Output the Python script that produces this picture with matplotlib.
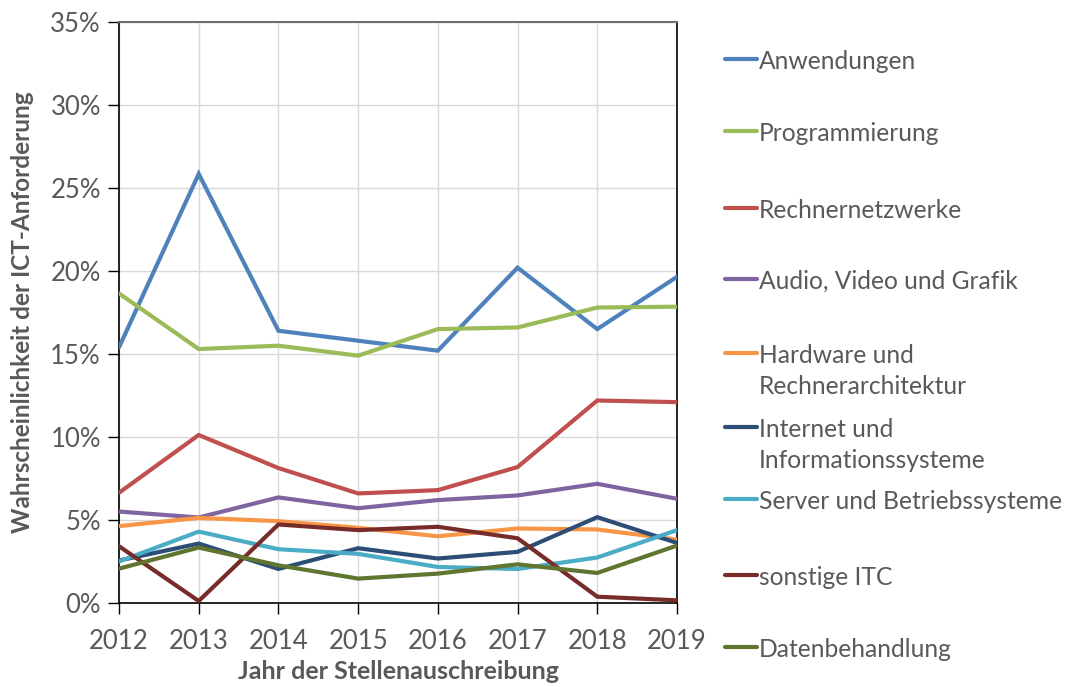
#!/usr/bin/env python3
"""Wahrscheinlichkeit der ICT-Anforderungen nach Jahr."""

import matplotlib
matplotlib.use("Agg")
import matplotlib.pyplot as plt
from matplotlib.lines import Line2D
from matplotlib.ticker import FuncFormatter

plt.rcParams.update({
    "font.family": ["Lato", "DejaVu Sans"],
    "font.size": 18,
})

years = [2012, 2013, 2014, 2015, 2016, 2017, 2018, 2019]

labels = [
    "Anwendungen",
    "Programmierung",
    "Rechnernetzwerke",
    "Audio, Video und Grafik",
    "Hardware und\nRechnerarchitektur",
    "Internet und\nInformationssysteme",
    "Server und Betriebssysteme",
    "sonstige ITC",
    "Datenbehandlung",
]

anwendungen = [15.4, 25.85, 16.4, 15.8, 15.2, 20.2, 16.5, 19.65]
programmierung = [18.65, 15.3, 15.5, 14.9, 16.5, 16.6, 17.8, 17.85]
rechnernetzwerke = [6.64, 10.12, 8.13, 6.6, 6.8, 8.19, 12.2, 12.1]
audio_video = [5.51, 5.15, 6.36, 5.71, 6.2, 6.48, 7.18, 6.28]
hardware = [4.63, 5.13, 4.93, 4.53, 4.02, 4.49, 4.43, 3.82]
internet = [2.56, 3.58, 2.05, 3.3, 2.68, 3.08, 5.17, 3.62]
server = [2.5, 4.3, 3.24, 2.96, 2.17, 2.05, 2.74, 4.39]
sonstige = [3.42, 0.12, 4.73, 4.39, 4.59, 3.9, 0.38, 0.16]
daten = [2.07, 3.34, 2.27, 1.47, 1.77, 2.33, 1.81, 3.46]

series = [anwendungen, programmierung, rechnernetzwerke, audio_video,
          hardware, internet, server, sonstige, daten]
colors = ["#4F81BD", "#9BBB59", "#C0504D", "#8064A2", "#F79646",
          "#2C4D75", "#4BACC6", "#772C2A", "#5F7530"]

TEXT = "#595959"


def main():
    fig = plt.figure(figsize=(10.65, 6.87), dpi=100)
    ax = fig.add_axes([119 / 1065, 1 - 603 / 687, 558 / 1065, 581 / 687])

    for vals, color in zip(series, colors):
        ax.plot(years, vals, color=color, linewidth=3, solid_capstyle="round",
                solid_joinstyle="miter", zorder=3)

    ax.set_xlim(2012, 2019)
    ax.set_ylim(0, 35)
    ax.set_xticks(years)
    ax.set_yticks(range(0, 36, 5))
    ax.yaxis.set_major_formatter(FuncFormatter(lambda v, _: f"{v:.0f}%"))
    ax.grid(True, color="#D9D9D9", linewidth=1, zorder=0)
    ax.tick_params(colors="black", labelcolor=TEXT, length=8, width=1,
                   labelsize=18.5)
    ax.tick_params(axis="x", pad=11)
    ax.tick_params(axis="y", pad=5)
    for side in ("left", "bottom", "right"):
        ax.spines[side].set_color("black")
        ax.spines[side].set_linewidth(1.2)
    ax.spines["top"].set_color("#6E6E6E")
    ax.spines["top"].set_linewidth(1.5)

    ax.set_xlabel("Jahr der Stellenauschreibung", fontsize=18, fontweight="bold",
                  color=TEXT, labelpad=4)
    ax.set_ylabel("Wahrscheinlichkeit der ICT-Anforderung", fontsize=17.5,
                  fontweight="bold", color=TEXT, labelpad=12)

    # manual legend, handle sits next to the first text line
    legend_y = [59, 131, 208, 279, 353, 427, 499, 575, 647]
    for label, color, ypx in zip(labels, colors, legend_y):
        yf = 1 - ypx / 687
        fig.add_artist(Line2D([725 / 1065, 757 / 1065], [yf, yf], color=color,
                              linewidth=3, solid_capstyle="round",
                              transform=fig.transFigure))
        fig.text(759 / 1065, yf + 9 / 687, label, color=TEXT, fontsize=17.7,
                 va="top", ha="left", linespacing=1.42,
                 transform=fig.transFigure)

    fig.savefig("out.png", dpi=100)
    plt.close(fig)


if __name__ == "__main__":
    main()
